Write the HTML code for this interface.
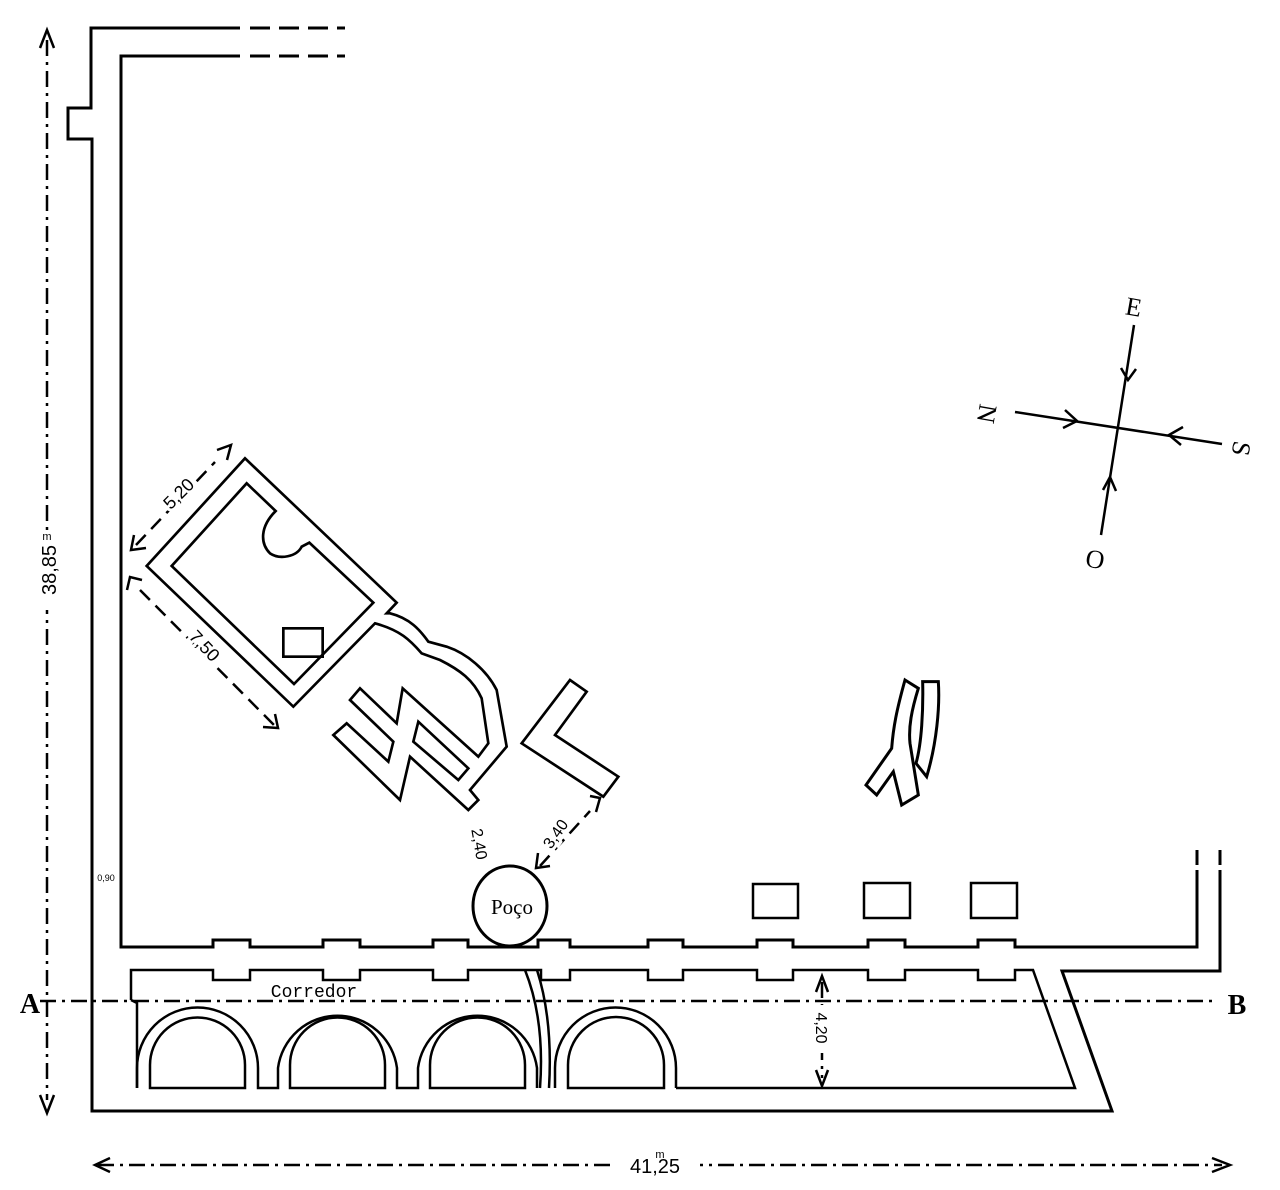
<!DOCTYPE html>
<html><head><meta charset="utf-8"><style>html,body{margin:0;padding:0;background:#fff}svg{display:block}</style></head>
<body>
<svg width="1280" height="1190" viewBox="0 0 1280 1190" xmlns="http://www.w3.org/2000/svg" font-family="Liberation Sans, sans-serif">
<rect width="1280" height="1190" fill="#fff"/>
<g fill="none" stroke="#000" stroke-width="3" stroke-linejoin="miter">
<path d="M240,28 L91,28 L91,108 L68,108 L68,139 L92,139 L92,1111 L1112,1111 L1062,971 L1220,971 L1220,870"/>
<path d="M240,56 L121,56 L121,947 L213,947 L213,940 L250,940 L250,947 L323,947 L323,940 L360,940 L360,947 L433,947 L433,940 L468,940 L468,947 L538,947 L538,940 L570,940 L570,947 L648,947 L648,940 L683,940 L683,947 L757,947 L757,940 L793,940 L793,947 L868,947 L868,940 L905,940 L905,947 L978,947 L978,940 L1015,940 L1015,947 L1197,947 L1197,870"/>
<path d="M250,28 H345 M250,56 H345 M1197,865 V850 M1220,865 V850" stroke-dasharray="20,9"/>
<path stroke-width="2.5" d="M131,1000 L131,970 L213,970 L213,980 L250,980 L250,970 L323,970 L323,980 L360,980 L360,970 L433,970 L433,980 L468,980 L468,970 L541,970 L541,980 L570,980 L570,970 L648,970 L648,980 L683,980 L683,970 L757,970 L757,980 L793,980 L793,970 L868,970 L868,980 L905,980 L905,970 L978,970 L978,980 L1015,980 L1015,970 L1033,970 L1075,1088 L676,1088"/>
<path stroke-width="2.5" d="M131,1000 L137,1003 L137,1088"/>
<g stroke-width="2.5">
<path d="M137,1088 L137,1068 A60,60 0 0 1 258,1068 L258,1088 L278,1088 L278,1068 A60,60 0 0 1 397,1068 L397,1088 L418,1088 L418,1068 A60,60 0 0 1 537,1068 L537,1088 M555,1088 L555,1068 A60,60 0 0 1 676,1068 L676,1088"/>
<path d="M150,1088 L150,1065 A47,47 0 0 1 245,1065 L245,1088 Z M290,1088 L290,1065 A47,47 0 0 1 385,1065 L385,1088 Z M430,1088 L430,1065 A47,47 0 0 1 525,1065 L525,1088 Z M568,1088 L568,1065 A48,48 0 0 1 664,1065 L664,1088 Z"/>
<path d="M525,970 Q545,1020 540,1088 M537,970 Q553,1020 549,1088"/>
</g>
<ellipse cx="510" cy="906" rx="37" ry="40"/>
<rect x="753" y="884" width="45" height="34" stroke-width="2.5"/>
<rect x="864" y="883" width="46" height="35" stroke-width="2.5"/>
<rect x="971" y="883" width="46" height="35" stroke-width="2.5"/>
<g transform="translate(120,440) scale(0.33333)" stroke-width="8">
<path d="M375,55 L80,378 L520,800 L765,550 C840,570 870,600 905,640 L960,660 C1020,690 1060,720 1085,775 L1105,910 L1075,950 L848,745 L830,850 L720,745 L690,780 L820,905 L805,965 L680,850 L640,885 L840,1080 L870,950 L1045,1110 L1075,1080 L1050,1050 L1160,920 L1130,750 C1100,690 1040,640 980,620 L925,605 C900,570 870,535 810,520 L800,520 L830,488 Z"/>
<path d="M380,130 L155,378 L522,732 L760,488 L568,308 L545,320 C530,350 480,360 450,340 C420,310 420,260 467,213 Z"/>
<rect x="490" y="565" width="118" height="85"/>
<path d="M895,845 L1045,985 L1015,1020 L880,905 Z"/>
<path d="M1350,720 L1400,755 L1305,885 L1495,1010 L1450,1070 L1205,910 Z"/>
</g>
<g transform="translate(840,660) scale(0.33333)" stroke-width="9">
<path d="M195,60 L235,85 C215,150 205,200 210,250 L235,405 L185,435 L160,335 L110,405 L78,375 L155,265 C160,200 170,150 195,60 Z"/>
<path d="M248,65 L295,65 C300,140 290,250 260,350 L228,310 C245,250 250,150 248,65 Z"/>
</g>
<path d="M1015,412 L1222,444 M1134,325 L1101,535" stroke-width="2.5"/>
<path d="M1065,410 L1077,421 L1063,428 M1183,427 L1169,435 L1181,445 M1121,368 L1128,380 L1136,369 M1103,490 L1110,477 L1116,491" stroke-width="2.5"/>
</g>
<g font-family="Liberation Serif, serif" font-size="26" fill="#000">
<text x="1126" y="316" transform="rotate(10 1136 306)">E</text>
<text x="1086" y="568" transform="rotate(10 1096 558)">O</text>
<text x="0" y="0" transform="translate(980,403) rotate(100)">N</text>
<text x="0" y="0" transform="translate(1234,440) rotate(100)">S</text>
</g>
<g stroke="#000" stroke-width="2.5" fill="none">
<path d="M47,40 V1100 M98,1165 H1222 M40,1001 H1215 M822,982 V1078" stroke-dasharray="16,6,3,6"/>
<path d="M40,48 L47,30 L54,48 M40,1095 L47,1113 L54,1095 M110,1158 L95,1165 L110,1172 M1212,1158 L1230,1165 L1212,1172 M816,992 L822,976 L828,992 M816,1070 L822,1086 L828,1070"/>
<path d="M136,545 L215,462 M140,590 L275,726 M540,866 L590,811" stroke-dasharray="14,8"/>
<path d="M134,535 L131,550 L146,548 M217,450 L231,445 L227,460 M127,590 L130,577 L142,580 M263,727 L278,728 L275,714 M538,853 L536,868 L550,866 M590,796 L600,798 L596,812"/>
</g>
<rect x="30" y="530" width="34" height="80" fill="#fff"/>
<rect x="615" y="1150" width="85" height="30" fill="#fff"/>
<rect x="810" y="1005" width="24" height="48" fill="#fff"/>
<g fill="#000" font-family="Liberation Sans, sans-serif" text-anchor="middle" paint-order="stroke" stroke="#fff" stroke-width="6">
<text transform="translate(56,570) rotate(-90)" font-size="20">38,85</text>
<text x="47" y="540" font-size="11" stroke-width="0">m</text>
<text x="655" y="1173" font-size="20">41,25</text>
<text x="660" y="1158" font-size="11" stroke-width="0">m</text>
<text transform="translate(816,1028) rotate(90)" font-size="16" stroke-width="0">4,20</text>
<text transform="translate(183,498) rotate(-45)" font-size="18">5,20</text>
<text transform="translate(200,650) rotate(47)" font-size="18">7,50</text>
<text transform="translate(474,845) rotate(80)" font-size="16" stroke-width="0">2,40</text>
<text transform="translate(560,837) rotate(-55)" font-size="16">3,40</text>
<text x="106" y="881" font-size="9" stroke-width="0">0,90</text>
<text x="512" y="914" font-size="21" font-family="Liberation Serif, serif" stroke-width="0">Poço</text>
<text x="314" y="997" font-size="18" font-family="Liberation Mono, monospace" stroke-width="0">Corredor</text>
<text x="30" y="1013" font-size="28" font-weight="bold" font-family="Liberation Serif, serif" stroke-width="0">A</text>
<text x="1237" y="1014" font-size="28" font-weight="bold" font-family="Liberation Serif, serif" stroke-width="0">B</text>
</g>
</svg>
</body></html>
